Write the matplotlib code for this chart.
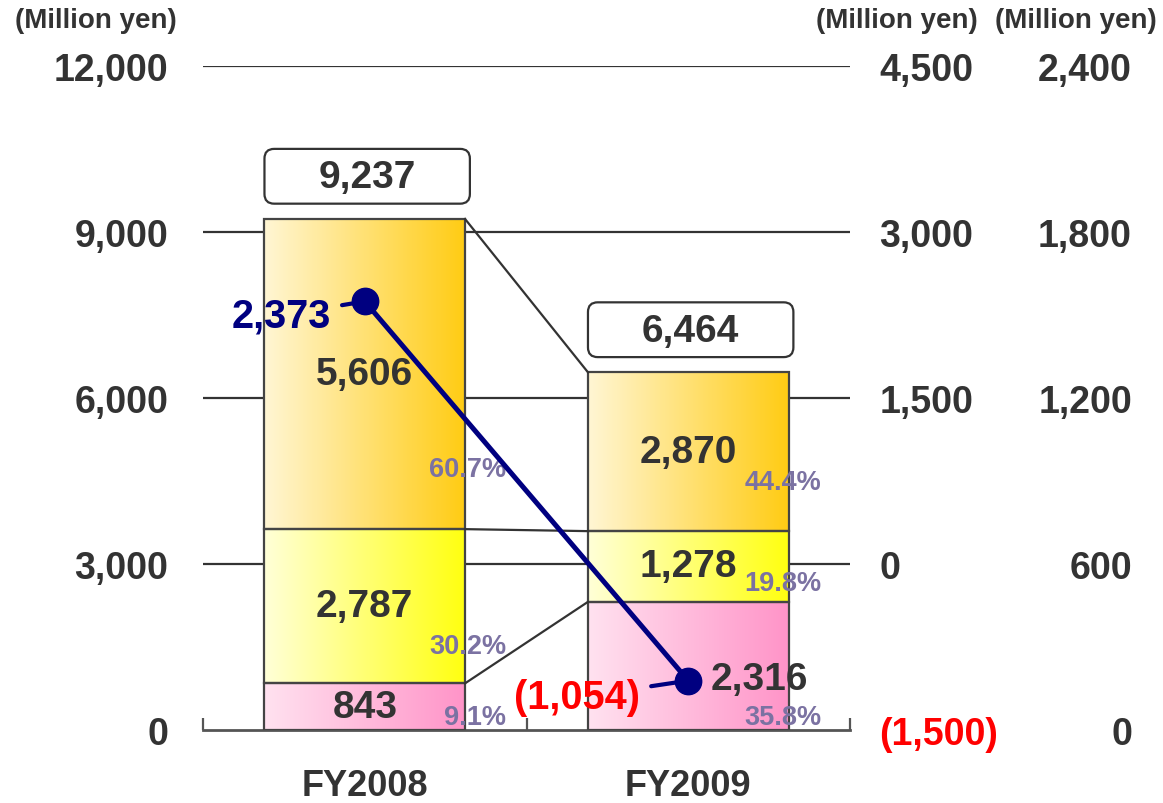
import matplotlib.pyplot as plt
import numpy as np
from matplotlib.colors import to_rgb
from matplotlib.patches import FancyBboxPatch

plt.rcParams['font.family'] = ['Liberation Sans', 'DejaVu Sans']
plt.rcParams['font.weight'] = 'bold'

# sales by segment (million yen), bottom to top
years = ['FY2008', 'FY2009']
seg_bottom = [843, 2316]
seg_middle = [2787, 1278]
seg_top = [5606, 2870]
sales_total = [9237, 6464]
# operating income (million yen), plotted on first right axis
op_income = [2373, -1054]

left_ticks = [0, 3000, 6000, 9000, 12000]
right1_ticks = [-1500, 0, 1500, 3000, 4500]
right2_ticks = [0, 600, 1200, 1800, 2400]

DARK = '#333333'
NAVY = '#000080'
PCT = '#7b72a2'
grads = [('#ffe2f0', '#ff94c8'), ('#ffffd8', '#ffff10'), ('#fff6d4', '#ffcc14')]


def fmt(v):
    return '({:,})'.format(-v) if v < 0 else '{:,}'.format(v)


def gradient(c0, c1, n=256):
    a = np.array(to_rgb(c0))
    b = np.array(to_rgb(c1))
    t = np.linspace(0, 1, n)[:, None]
    return (a + (b - a) * t)[None, :, :]


fig = plt.figure(figsize=(11.63, 8.04), dpi=100)
ax = fig.add_axes([203 / 1163, 1 - 731 / 804, 647 / 1163, 664 / 804])
ax.set_xlim(-0.5, 1.5)
ax.set_ylim(0, 12000)

x = np.arange(len(years))
w = 0.62
stack = np.array([seg_bottom, seg_middle, seg_top])
bases = np.vstack([np.zeros(len(years)), np.cumsum(stack, axis=0)[:-1]])
tops = np.vstack([bases, stack.sum(axis=0)])

# horizontal grid behind bars
for t in left_ticks[1:]:
    ax.axhline(t, color=DARK, lw=1.6, zorder=0)

# gradient filled stacked bars
for k in range(3):
    for i in range(len(years)):
        x0, x1 = x[i] - w / 2, x[i] + w / 2
        y0, y1 = bases[k][i], bases[k][i] + stack[k][i]
        ax.imshow(gradient(*grads[k]), extent=[x0, x1, y0, y1], aspect='auto',
                  interpolation='bicubic', zorder=2)
    ax.bar(x, stack[k], w, bottom=bases[k], fill=False, edgecolor='#444444',
           lw=1.6, zorder=3)
ax.set_xlim(-0.5, 1.5)
ax.set_ylim(0, 12000)

# connector lines between the two bars
for k in range(1, 4):
    ax.plot([x[0] + w / 2, x[1] - w / 2], [tops[k][0], tops[k][1]],
            color=DARK, lw=1.6, zorder=3)

# segment value labels and shares
pct_off = [[13, 13], [37, 19], [60, 49]]   # pixels above segment base
px = 664 / 12000
for k in range(3):
    for i in range(len(years)):
        mid = bases[k][i] + stack[k][i] / 2
        if k == 0 and i == 1:
            ax.text(x[i] + 0.22, 920, fmt(stack[k][i]), ha='center', va='center',
                    fontsize=28, color=DARK, zorder=6)
        else:
            ax.text(x[i], mid, fmt(stack[k][i]), ha='center', va='center',
                    fontsize=28, color=DARK, zorder=6)
        pct = stack[k][i] / sales_total[i] * 100
        ax.text(x[i] + w / 2 + (0.127 if i == 0 else 0.102),
                bases[k][i] + pct_off[k][i] / px,
                '{:.1f}%'.format(pct), ha='right', va='center', fontsize=19.5,
                color=PCT, zorder=6)

# total boxes
aspect = (1 / px) * (647 / 2)
for i in range(len(years)):
    bx = FancyBboxPatch((x[i] - 0.31, sales_total[i] + 275), 0.635, 990,
                        boxstyle='round,pad=0,rounding_size=0.03',
                        mutation_aspect=aspect, fc='white', ec=DARK, lw=1.6,
                        zorder=4)
    ax.add_patch(bx)
    ax.text(x[i] + 0.007, sales_total[i] + 275 + 480, fmt(sales_total[i]),
            ha='center', va='center', fontsize=28, color=DARK, zorder=5)

# axes styling
for s in ['left', 'right', 'top']:
    ax.spines[s].set_visible(False)
ax.spines['bottom'].set_color('#555555')
ax.spines['bottom'].set_linewidth(2)
ax.set_xticks(x)
ax.set_xticklabels(years, fontsize=26, color=DARK)
ax.set_xticks([-0.5, 0.5, 1.5], minor=True)
ax.tick_params(axis='x', which='major', length=0, pad=27)
ax.tick_params(axis='x', which='minor', direction='in', length=9, width=1.6,
               color='#555555')
ax.set_yticks(left_ticks)
ax.set_yticklabels([fmt(t) for t in left_ticks], fontsize=27, color=DARK)
ax.tick_params(axis='y', length=0, pad=25)

# operating income line on first right axis
ax2 = ax.twinx()
ax2.set_ylim(-1500, 4500)
ax2.plot(x, op_income, color=NAVY, lw=3.6, marker='o', markersize=19, zorder=5)
ax2.annotate(fmt(op_income[0]), (x[0], op_income[0]), xytext=(-60, -10),
             textcoords='offset points', ha='center', va='center', fontsize=28.5,
             color=NAVY, arrowprops=dict(arrowstyle='-', color=NAVY, lw=3,
                                         shrinkA=6, shrinkB=0))
ax2.annotate(fmt(op_income[1]), (x[1], op_income[1]), xytext=(-80, -12),
             textcoords='offset points', ha='center', va='center', fontsize=28.5,
             color='red', arrowprops=dict(arrowstyle='-', color=NAVY, lw=3,
                                          shrinkA=6, shrinkB=0))
ax2.set_yticks(right1_ticks)
ax2.set_yticklabels([fmt(t) for t in right1_ticks], fontsize=27, color=DARK)
ax2.get_yticklabels()[0].set_color('red')
ax2.tick_params(axis='y', length=0, pad=21)
for s in ax2.spines.values():
    s.set_visible(False)

# second right axis (labels only)
ax3 = ax.twinx()
ax3.set_ylim(0, 2400)
ax3.set_yticks(right2_ticks)
ax3.set_yticklabels([fmt(t) for t in right2_ticks], fontsize=27, color=DARK)
for lab in ax3.get_yticklabels():
    lab.set_ha('right')
ax3.tick_params(axis='y', length=0, pad=203)
for s in ax3.spines.values():
    s.set_visible(False)

fig.text(96 / 1163, 1 - 21 / 804, '(Million yen)', ha='center', va='center',
         fontsize=20, color=DARK)
fig.text(897 / 1163, 1 - 21 / 804, '(Million yen)', ha='center', va='center',
         fontsize=20, color=DARK)
fig.text(1076 / 1163, 1 - 21 / 804, '(Million yen)', ha='center', va='center',
         fontsize=20, color=DARK)

fig.savefig('out.png', dpi=100, facecolor='white')
